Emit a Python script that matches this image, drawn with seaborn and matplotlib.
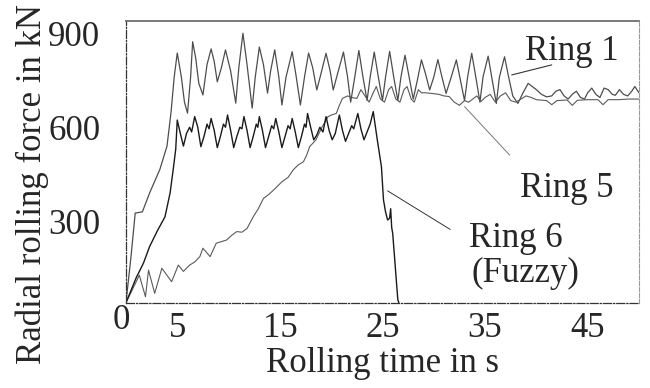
import numpy as np
import pandas as pd
import matplotlib
matplotlib.use('Agg')
import matplotlib.pyplot as plt
import seaborn as sns

# values (time in s, force in kN)
ring1_t = [0, 0.5, 0.9, 1.6, 2.3, 3.3, 4.0, 4.4, 4.7, 5.0, 5.4, 5.7, 6.0, 6.3, 6.5, 6.8, 7.1,
           7.5, 7.9, 8.3, 8.6, 8.9, 9.3, 9.7, 10.2, 10.7, 11.0, 11.4, 11.8, 12.3, 12.6, 13.0,
           13.4, 13.8, 14.1, 14.5, 14.9, 15.2, 15.6, 16.2, 16.6, 17.0, 17.4, 17.8, 18.2, 18.6,
           19.0, 19.5, 19.9, 20.2, 20.7, 21.2, 21.6, 21.9, 22.3, 22.7, 23.1, 23.5, 23.8, 24.2,
           24.6, 25.0, 25.3, 25.7, 26.1, 26.5, 26.8, 27.2, 27.6, 28.0, 28.4, 28.8, 29.2, 29.6,
           30.0, 30.4, 30.8, 31.2, 31.7, 32.2, 32.6, 33.0, 33.3, 33.7, 34.1, 34.5, 34.8, 35.3,
           35.7, 36.1, 36.4, 36.9, 37.3, 37.7, 38.2, 38.7, 39.2, 39.6, 40.0, 40.5, 41.0, 41.5,
           41.9, 42.3, 42.7, 43.1, 43.5, 43.9, 44.3, 44.7, 45.0, 45.4, 45.8, 46.2, 46.6, 47.0,
           47.4, 47.7, 48.1, 48.5, 48.9, 49.3, 49.6, 50.0]
ring1_f = [0, 150, 286, 290, 350, 425, 500, 610, 720, 797, 720, 640, 605, 720, 833, 780, 700,
           663, 760, 810, 770, 705, 750, 807, 740, 637, 750, 860, 760, 621, 720, 816,
           760, 669, 740, 807, 720, 631, 720, 801, 720, 631, 720, 797, 750, 679,
           730, 796, 740, 679, 740, 800, 720, 640, 720, 805, 720, 645, 720, 800,
           720, 645, 720, 802, 720, 645, 720, 790, 720, 650, 710, 775, 730, 679,
           720, 776, 720, 668, 720, 775, 710, 645, 720, 796, 720, 640, 720, 787,
           710, 636, 720, 785, 720, 660, 636, 670, 700, 690, 680, 665, 657, 660,
           675, 680, 660, 650, 665, 675, 655, 650, 670, 685, 665, 655, 685, 680,
           665, 662, 680, 665, 660, 675, 690, 670]

ring5_t = [0, 0.6, 1.3, 1.9, 2.2, 2.8, 3.5, 4.45, 5.1, 5.6, 6.2, 6.7, 7.2, 7.5, 8.2, 8.8, 9.3,
           9.8, 10.3, 10.8, 11.3, 11.8, 12.4, 12.9, 13.4, 13.9, 14.4, 15.2, 15.8, 16.3, 16.8,
           17.3, 17.6, 17.9, 18.5, 19.1, 19.7, 20.1, 20.5, 20.8, 21.1, 21.6, 22.0, 22.5, 22.9,
           23.3, 23.7, 24.1, 24.4, 24.8, 25.2, 25.6, 25.9, 26.3, 26.7, 27.1, 27.4, 27.8, 28.1,
           28.5, 28.8, 29.2, 29.8, 30.5, 31.0, 31.5, 32.0, 32.5, 33.0, 33.4, 33.8, 34.2, 34.6,
           35.0, 35.5, 36.0, 36.5, 37.0, 37.5, 38.0, 38.5, 39.0, 39.5, 40.0, 41.0, 41.5, 42.0,
           43.0, 43.5, 44.0, 45.0, 46.0, 46.5, 47.0, 48.0, 49.0, 50.0]
ring5_f = [0, 40, 88, 19, 104, 30, 110, 67, 120, 100, 120, 130, 147, 174, 147, 190, 195,
           200, 215, 227, 225, 237, 274, 300, 333, 345, 360, 386, 400, 424, 440,
           450, 470, 498, 519, 560, 594, 600, 604, 630, 652, 660, 655, 652, 680,
           660, 640, 670, 690, 650, 640, 680, 690, 650, 640, 680, 690, 650, 640,
           680, 670, 670, 668, 665, 660, 658, 640, 630, 645, 640, 650, 660, 642,
           655, 665, 640, 660, 670, 645, 640, 650, 660, 655, 648, 645, 632, 645,
           647, 630, 646, 648, 648, 632, 648, 648, 650, 650]

ring6_t = [0, 0.5, 1.0, 1.7, 2.3, 3.1, 3.8, 4.3, 4.6, 4.85, 5.0, 5.3, 5.6, 5.9, 6.2, 6.4, 6.7,
           7.0, 7.3, 7.6, 7.9, 8.1, 8.3, 8.6, 8.9, 9.2, 9.5, 9.7, 9.9, 10.2, 10.5, 10.8, 11.1,
           11.3, 11.5, 11.8, 12.1, 12.4, 12.7, 12.85, 13.0, 13.3, 13.6, 13.9, 14.2, 14.4, 14.6,
           14.9, 15.2, 15.5, 15.8, 16.0, 16.2, 16.5, 16.8, 17.1, 17.4, 17.55, 17.7, 18.0, 18.3,
           18.6, 18.9, 19.2, 19.5, 19.8, 20.1, 20.4, 20.6, 20.8, 21.1, 21.4, 21.7, 22.0, 22.2,
           22.6, 22.9, 23.2, 23.5, 23.8, 24.1, 24.5, 24.9, 25.1, 25.3, 25.5, 25.7, 25.8, 25.9,
           26.0, 26.2, 26.4, 26.5, 26.6]
ring6_f = [0, 40, 80, 126, 179, 232, 274, 350, 424, 490, 583, 540, 500, 540, 560, 545, 594,
           560, 498, 530, 570, 555, 588, 550, 495, 530, 570, 560, 599, 550, 495, 530, 560,
           555, 594, 550, 495, 530, 570, 560, 594, 550, 495, 530, 565, 555, 588,
           545, 495, 530, 565, 555, 588, 545, 495, 530, 570, 560, 604, 560, 520,
           535, 560, 545, 594, 550, 520, 540, 570, 599, 550, 515, 540, 565, 555,
           604, 555, 520, 545, 570, 610, 519, 434, 328, 290, 264, 270, 300, 240,
           221, 136, 50, 9, 0]

x_ticks = [0, 5, 10, 15, 20, 25, 30, 35, 40, 45, 50]
x_labels = ['', '5', '', '15', '', '25', '', '35', '', '45', '']
y_ticks = [0, 100, 200, 300, 400, 500, 600, 700, 800, 900]
y_labels = ['', '', '', '300', '', '', '600', '', '', '900']

df = pd.concat([
    pd.DataFrame({'time': ring1_t, 'force': ring1_f, 'ring': 'Ring 1'}),
    pd.DataFrame({'time': ring5_t, 'force': ring5_f, 'ring': 'Ring 5'}),
    pd.DataFrame({'time': ring6_t, 'force': ring6_f, 'ring': 'Ring 6'}),
], ignore_index=True)

sns.set_style('white')
plt.rcParams['font.family'] = ['Liberation Serif', 'DejaVu Serif']
fs = 25

fig = plt.figure(figsize=(6.5, 3.88), dpi=100)
ax = fig.add_axes([0.1938, 0.2198, 0.7892, 0.7268])

styles = {'Ring 1': ('#4d4d4d', 0.9), 'Ring 5': ('#5a5a5a', 0.8), 'Ring 6': ('#1a1a1a', 1.0)}
for ring, (col, lw) in styles.items():
    sns.lineplot(data=df[df['ring'] == ring], x='time', y='force', color=col, linewidth=lw,
                 sort=False, estimator=None, ax=ax, legend=False)

ax.set_xlim(0, 50)
ax.set_ylim(0, 900)
ax.set_xticks(x_ticks)
ax.set_xticklabels(x_labels)
ax.set_yticks(y_ticks)
ax.set_yticklabels(y_labels, va='top')
ax.tick_params(axis='both', direction='inout', length=5, width=0.8, color='#333333',
               labelsize=fs)
ax.tick_params(axis='x', pad=4)
ax.tick_params(axis='y', pad=16)

ax.set_xlabel('Rolling time in s', fontsize=fs, va='top')
ax.xaxis.set_label_coords(0.5, -0.158)
ax.set_ylabel('Radial rolling force in kN', fontsize=fs)
ax.yaxis.set_label_coords(-0.15, 0.42)

# spines look like a scanned print
ax.spines['top'].set(color='#6e6e6e', linewidth=1.3)
ax.spines['left'].set(color='#333333', linewidth=0.9, linestyle='-.')
ax.spines['bottom'].set(color='#333333', linewidth=0.9, linestyle='-.')
ax.spines['right'].set(color='#999999', linewidth=0.8, linestyle='--')

ax.annotate('0', xy=(0, 0), xytext=(-3, -13), textcoords='offset points',
            ha='center', va='center', fontsize=fs)

ax.text(43.5, 775, 'Ring 1', fontsize=fs, ha='center', va='baseline')
ax.plot([41.5, 37.6], [759, 727], color='#333333', lw=0.8)
ax.text(43.0, 338, 'Ring 5', fontsize=fs, ha='center', va='baseline')
ax.plot([37.4, 33.0], [471, 626], color='#777777', lw=0.7)
ax.text(38.0, 179, 'Ring 6', fontsize=fs, ha='center', va='baseline')
ax.text(38.9, 67, '(Fuzzy)', fontsize=fs, ha='center', va='baseline')
ax.plot([31.6, 25.5], [234, 357], color='#333333', lw=0.7)

fig.savefig('out.png', dpi=100)
